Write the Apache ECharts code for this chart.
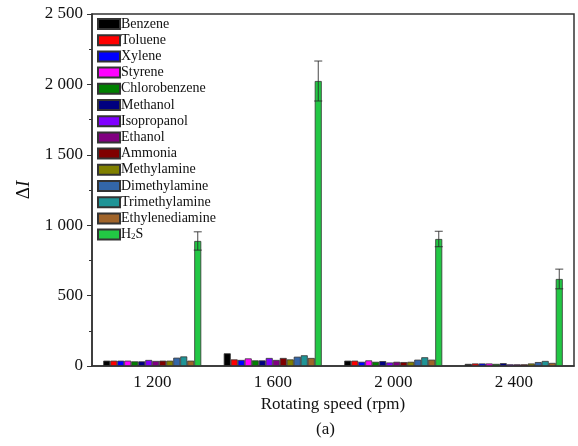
<!DOCTYPE html>
<html>
<head>
<meta charset="utf-8">
<script src="https://cdn.jsdelivr.net/npm/echarts@6/dist/echarts.min.js"></script>
<style>
  html, body { margin: 0; padding: 0; background: #ffffff; }
  #chart { width: 578px; height: 446px; }
</style>
</head>
<body>
<div id="chart"></div>
<script>
// Rotating speeds (rpm)
const speeds = ['1 200', '1 600', '2 000', '2 400'];

// Response ΔI of each gas at each rotating speed
const benzene         = [38, 90, 38, 15];
const toluene         = [38, 47, 38, 18];
const xylene          = [38, 43, 30, 18];
const styrene         = [38, 54, 40, 18];
const chlorobenzene   = [33, 40, 30, 15];
const methanol        = [33, 40, 35, 20];
const isopropanol     = [43, 57, 25, 12];
const ethanol         = [36, 43, 30, 12];
const ammonia         = [38, 57, 28, 12];
const methylamine     = [38, 47, 30, 18];
const dimethylamine   = [59, 66, 45, 28];
const trimethylamine  = [68, 76, 62, 36];
const ethylenediamine = [38, 57, 45, 22];
const h2s             = [888, 2024, 902, 618];
const h2sError        = [65, 142, 55, 70];

const yTicks = [0, 500, 1000, 1500, 2000, 2500];

const gases = [
  { name: 'Benzene',         data: benzene,         color: '#000000' },
  { name: 'Toluene',         data: toluene,         color: '#ff0000' },
  { name: 'Xylene',          data: xylene,          color: '#0000ff' },
  { name: 'Styrene',         data: styrene,         color: '#ff00ff' },
  { name: 'Chlorobenzene',   data: chlorobenzene,   color: '#008000' },
  { name: 'Methanol',        data: methanol,        color: '#000080' },
  { name: 'Isopropanol',     data: isopropanol,     color: '#8000ff' },
  { name: 'Ethanol',         data: ethanol,         color: '#800080' },
  { name: 'Ammonia',         data: ammonia,         color: '#800000' },
  { name: 'Methylamine',     data: methylamine,     color: '#808000' },
  { name: 'Dimethylamine',   data: dimethylamine,   color: '#3366a8' },
  { name: 'Trimethylamine',  data: trimethylamine,  color: '#1f9496' },
  { name: 'Ethylenediamine', data: ethylenediamine, color: '#a0642a' },
  { name: 'H2S',             data: h2s,             color: '#22c744' }
];

const BAR_W = 7;
const serif = '"Liberation Serif", "DejaVu Serif", serif';

const barSeries = gases.map(g => ({
  name: g.name,
  type: 'bar',
  data: g.data,
  barWidth: BAR_W,
  barGap: '0%',
  itemStyle: { color: g.color, borderColor: '#333333', borderWidth: 0.8 },
  z: 2
}));

// Error bars on the H2S bars (last bar in each group)
const h2sIndex = gases.length - 1;
const offset = (h2sIndex - (gases.length - 1) / 2) * BAR_W;
const errorSeries = {
  type: 'custom',
  name: 'err',
  z: 5,
  data: h2s.map((v, i) => [i, v, h2sError[i]]),
  renderItem: function (params, api) {
    const idx = api.value(0);
    const v = api.value(1);
    const e = api.value(2);
    const hi = api.coord([idx, v + e]);
    const lo = api.coord([idx, v - e]);
    const x = hi[0] + offset;
    const cap = 4;
    const style = { stroke: 'rgba(40,40,40,0.85)', lineWidth: 1 };
    return {
      type: 'group',
      children: [
        { type: 'line', shape: { x1: x, y1: hi[1], x2: x, y2: lo[1] }, style: style },
        { type: 'line', shape: { x1: x - cap, y1: hi[1], x2: x + cap, y2: hi[1] }, style: style },
        { type: 'line', shape: { x1: x - cap, y1: lo[1], x2: x + cap, y2: lo[1] }, style: style }
      ]
    };
  },
  tooltip: { show: false },
  silent: true
};

const chart = echarts.init(document.getElementById('chart'), null, { renderer: 'canvas' });

chart.setOption({
  backgroundColor: '#ffffff',
  animation: false,
  grid: {
    left: 92, right: 4, top: 14, bottom: 80,
    show: true, borderColor: '#333333', borderWidth: 1.5, backgroundColor: 'transparent'
  },
  legend: {
    orient: 'vertical',
    left: 92,
    top: 12,
    itemWidth: 22,
    itemHeight: 10,
    itemGap: 2.2,
    icon: 'rect',
    data: gases.map(g => g.name),
    textStyle: {
      fontFamily: serif, fontSize: 14, color: '#111111', padding: [0, 0, 0, -4],
      lineHeight: 14,
      rich: {
        n: { fontFamily: serif, fontSize: 14, color: '#111111' },
        s: { fontFamily: serif, fontSize: 9, color: '#111111', verticalAlign: 'bottom', padding: [6, 0, 0, 0] }
      }
    },
    formatter: function (name) {
      if (name === 'H2S') return '{n|H}{s|2}{n|S}';
      return name;
    }
  },
  xAxis: {
    type: 'category',
    data: speeds,
    name: 'Rotating speed (rpm)',
    nameLocation: 'middle',
    nameGap: 30,
    nameTextStyle: { fontFamily: serif, fontSize: 17, color: '#111111' },
    axisLine: { lineStyle: { color: '#333333', width: 1.5 } },
    axisTick: { show: false },
    axisLabel: { fontFamily: serif, fontSize: 17, color: '#111111', margin: 8 },
    splitLine: { show: false }
  },
  yAxis: {
    type: 'value',
    min: yTicks[0],
    max: yTicks[yTicks.length - 1],
    interval: 500,
    name: '{a|Δ}{b|I}',
    nameLocation: 'middle',
    nameGap: 58,
    nameRotate: 90,
    nameTextStyle: {
      rich: {
        a: { fontFamily: serif, fontSize: 19, color: '#111111' },
        b: { fontFamily: serif, fontSize: 19, color: '#111111', fontStyle: 'italic' }
      }
    },
    axisLine: { show: true, lineStyle: { color: '#333333', width: 1.5 } },
    axisTick: { show: true, inside: false, length: 5, lineStyle: { color: '#333333', width: 1 } },
    minorTick: { show: true, splitNumber: 2, length: 3, lineStyle: { color: '#333333', width: 1 } },
    axisLabel: {
      fontFamily: serif, fontSize: 17, color: '#111111', margin: 9,
      formatter: function (v) {
        const s = String(v);
        return s.length > 3 ? s.slice(0, s.length - 3) + ' ' + s.slice(-3) : s;
      }
    },
    splitLine: { show: false }
  },
  graphic: [
    {
      type: 'text',
      left: 316,
      top: 421,
      style: { text: '(a)', font: '17px ' + serif, fill: '#111111' }
    }
  ],
  series: barSeries.concat([errorSeries])
});
</script>
</body>
</html>
